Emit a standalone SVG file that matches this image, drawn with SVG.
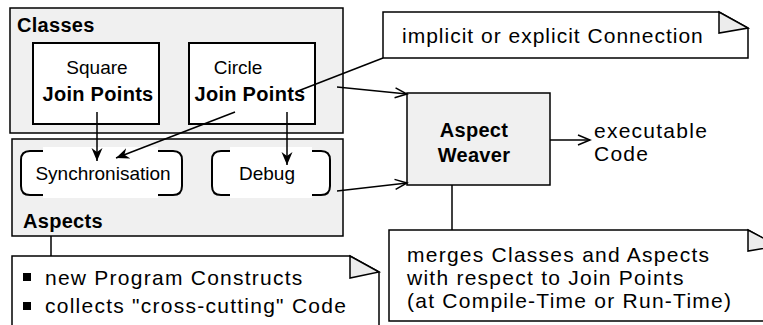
<svg xmlns="http://www.w3.org/2000/svg" width="763" height="325" viewBox="0 0 763 325">
<style>
  text { font-family: "Liberation Sans", Arial, sans-serif; fill: #000; }
  .b { font-weight: bold; font-size: 20px; letter-spacing: 0.3px; }
  .r { font-size: 19px; }
  .l { font-size: 21px; letter-spacing: 1.25px; }
  .grp { fill: #f0f0f0; stroke: #000; stroke-width: 1.5; }
  .cls { fill: #fff; stroke: #000; stroke-width: 2; }
  .note { fill: #fff; stroke: #000; stroke-width: 1.5; }
  .fold { fill: #ececec; stroke: #000; stroke-width: 1.5; stroke-linejoin: miter; }
  .brk { fill: none; stroke: #000; stroke-width: 2; }
  .ln { fill: none; stroke: #000; stroke-width: 1.5; }
</style>
<defs>
  <marker id="solid" markerUnits="userSpaceOnUse" markerWidth="15" markerHeight="12" refX="13" refY="5.5" orient="auto">
    <path d="M0,0 L13,5.5 L0,11 L4,5.5 Z" fill="#000"/>
  </marker>
  <marker id="open" markerUnits="userSpaceOnUse" markerWidth="16" markerHeight="14" refX="13" refY="6" orient="auto">
    <path d="M1,1 L13,6 L1,11" fill="none" stroke="#000" stroke-width="1.5"/>
  </marker>
</defs>

<g id="classes">
  <rect class="grp" x="10" y="8" width="333" height="125"/>
  <text class="b" x="17" y="32">Classes</text>
</g>
<g id="square">
  <rect class="cls" x="33" y="43" width="126" height="81"/>
  <text class="r" x="97" y="74" text-anchor="middle">Square</text>
  <text class="b" x="98" y="101" text-anchor="middle">Join Points</text>
</g>
<g id="circle">
  <rect class="cls" x="189" y="43" width="126" height="81"/>
  <text class="r" x="238" y="74" text-anchor="middle">Circle</text>
  <text class="b" x="250" y="101" text-anchor="middle">Join Points</text>
</g>

<g id="aspects">
  <rect class="grp" x="12" y="139" width="331" height="97"/>
  <text class="b" x="23" y="228">Aspects</text>
</g>
<g id="synchronisation">
  <rect x="21" y="151" width="161" height="44" rx="9" fill="#fff"/>
  <rect x="43" y="147" width="115" height="51" fill="#fff"/>
  <path class="brk" d="M43,151 H30 Q21,151 21,160 V186 Q21,195 30,195 H43"/>
  <path class="brk" d="M158,151 H173 Q182,151 182,160 V186 Q182,195 173,195 H158"/>
  <text class="r" x="103" y="180" text-anchor="middle">Synchronisation</text>
</g>
<g id="debug">
  <rect x="212" y="151" width="118" height="44" rx="9" fill="#fff"/>
  <rect x="230" y="147" width="82" height="51" fill="#fff"/>
  <path class="brk" d="M230,151 H221 Q212,151 212,160 V186 Q212,195 221,195 H230"/>
  <path class="brk" d="M312,151 H321 Q330,151 330,160 V186 Q330,195 321,195 H312"/>
  <text class="r" x="267" y="180" text-anchor="middle">Debug</text>
</g>

<g id="weaver">
  <rect class="grp" x="407" y="93" width="143" height="92"/>
  <text class="b" x="474" y="137" text-anchor="middle">Aspect</text>
  <text class="b" x="474" y="162" text-anchor="middle">Weaver</text>
</g>
<g id="executable">
  <text class="l" x="594" y="138">executable</text>
  <text class="l" x="594" y="161">Code</text>
</g>

<g id="note-connection">
  <path class="note" d="M383,12 H719 L748,28 V58 H383 Z"/>
  <path class="fold" d="M719,12 L748,28 L719,33 Z"/>
  <text class="l" x="402" y="43" style="letter-spacing:1px">implicit or explicit Connection</text>
</g>
<g id="note-aspects">
  <path class="note" d="M12,256 H350 L379,272 V340 H12 Z"/>
  <path class="fold" d="M350,256 L379,272 L350,278 Z"/>
  <rect x="23" y="273" width="8" height="8" fill="#000"/>
  <text class="l" x="45" y="285">new Program Constructs</text>
  <rect x="23" y="302" width="8" height="8" fill="#000"/>
  <text class="l" x="45" y="313">collects "cross-cutting" Code</text>
</g>
<g id="note-merges">
  <path class="note" d="M389,230 H748 L778,246 V321 H389 Z"/>
  <path class="fold" d="M748,230 L778,246 L748,251 Z"/>
  <text class="l" x="407" y="262">merges Classes and Aspects</text>
  <text class="l" x="407" y="285">with respect to Join Points</text>
  <text class="l" x="407" y="308">(at Compile-Time or Run-Time)</text>
</g>

<g id="connectors">
  <line class="ln" x1="97" y1="112" x2="97" y2="161" marker-end="url(#solid)"/>
  <line class="ln" x1="235" y1="112" x2="116" y2="158" marker-end="url(#solid)"/>
  <line class="ln" x1="287" y1="112" x2="287" y2="165" marker-end="url(#solid)"/>
  <line class="ln" x1="383" y1="58" x2="298" y2="91"/>
  <line class="ln" x1="337" y1="87" x2="407" y2="94" marker-end="url(#open)"/>
  <line class="ln" x1="337" y1="191" x2="407" y2="183" marker-end="url(#open)"/>
  <line class="ln" x1="550" y1="140" x2="590" y2="140" marker-end="url(#open)"/>
  <line class="ln" x1="452" y1="185" x2="452" y2="230"/>
  <line class="ln" x1="51" y1="236" x2="51" y2="256"/>
</g>
</svg>
